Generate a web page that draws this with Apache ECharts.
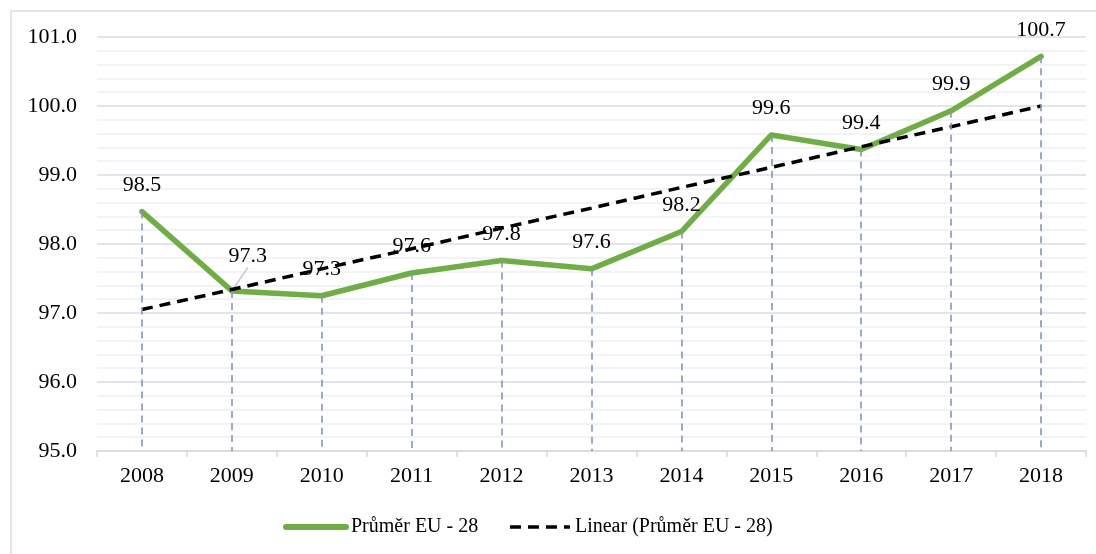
<!DOCTYPE html>
<html>
<head>
<meta charset="utf-8">
<script src="https://cdn.jsdelivr.net/npm/echarts@6/dist/echarts.min.js"></script>
<style>
  html, body { margin: 0; padding: 0; background: #fff; }
  #chart { width: 1096px; height: 554px; }
</style>
</head>
<body>
<div id="chart"></div>
<script>
const years = ['2008', '2009', '2010', '2011', '2012', '2013', '2014', '2015', '2016', '2017', '2018'];
const average = [98.47, 97.32, 97.25, 97.58, 97.76, 97.64, 98.18, 99.58, 99.37, 99.93, 100.72];
const trend = [97.05, 97.34, 97.64, 97.93, 98.23, 98.52, 98.82, 99.11, 99.41, 99.70, 100.00];
const seriesName = 'Průměr EU - 28';
const trendName = 'Linear (Průměr EU - 28)';

const font = '"Liberation Serif", "Times New Roman", serif';

const chart = echarts.init(document.getElementById('chart'));

const dropLines = average.map((v, i) => [
  { coord: [i, v] },
  { coord: [i, 95] }
]);

// only the 2009 label is pulled aside with a leader line
const averageData = average.map((v, i) =>
  i === 1 ? { value: v, labelLine: { show: true } } : v
);

const option = {
  animation: false,
  textStyle: { fontFamily: font },
  graphic: [{
    type: 'rect',
    shape: { x: 11, y: 11, width: 1200, height: 700 },
    style: { fill: 'none', stroke: '#d9dde6', lineWidth: 1.5 },
    silent: true
  }],
  grid: {
    left: 97,
    right: 10,
    top: 37,
    bottom: 103
  },
  legend: {
    data: [
      { name: seriesName, lineStyle: { color: '#70ad47', width: 6, cap: 'round' } },
      { name: trendName, lineStyle: { color: '#000', width: 3.5, type: [11, 7] } }
    ],
    left: 278,
    top: 512,
    itemWidth: 60,
    itemHeight: 10,
    itemGap: 30,
    itemStyle: { opacity: 0 },
    textStyle: { fontFamily: font, fontSize: 20, color: '#000' }
  },
  xAxis: {
    type: 'category',
    data: years,
    boundaryGap: true,
    axisLine: { lineStyle: { color: '#d9d9d9', width: 1.5 } },
    axisTick: { show: true, length: 6, lineStyle: { color: '#d9d9d9', width: 1.5 } },
    axisLabel: { fontFamily: font, fontSize: 22, color: '#000', margin: 14 },
    splitLine: { show: false }
  },
  yAxis: {
    type: 'value',
    min: 95,
    max: 101,
    interval: 1,
    axisLine: { show: false },
    axisTick: { show: false },
    axisLabel: {
      fontFamily: font,
      fontSize: 22,
      color: '#000',
      margin: 20,
      formatter: (v) => v.toFixed(1)
    },
    splitLine: { lineStyle: { color: '#d9dde6', width: 1.5 } },
    minorTick: { show: false, splitNumber: 5 },
    minorSplitLine: { show: true, lineStyle: { color: '#eef0f4', width: 1.5 } }
  },
  series: [
    {
      name: 'drops',
      type: 'line',
      data: average,
      symbol: 'none',
      lineStyle: { opacity: 0 },
      silent: true,
      z: 1,
      markLine: {
        silent: true,
        symbol: 'none',
        label: { show: false },
        lineStyle: { color: '#8497b0', type: [7, 5], width: 1.6 },
        data: dropLines
      }
    },
    {
      name: trendName,
      type: 'line',
      data: trend,
      symbol: 'none',
      z: 3,
      lineStyle: { color: '#000', width: 3.5, type: [11, 7] },
      itemStyle: { color: '#000' }
    },
    {
      name: seriesName,
      type: 'line',
      data: averageData,
      symbol: 'circle',
      symbolSize: 1,
      showSymbol: true,
      z: 2,
      lineStyle: { color: '#70ad47', width: 5.5, cap: 'round', join: 'round' },
      itemStyle: { color: '#70ad47' },
      label: {
        show: true,
        position: 'top',
        distance: 15,
        fontFamily: font,
        fontSize: 22,
        color: '#000',
        formatter: (p) => Number(p.value).toFixed(1)
      },
      labelLine: {
        show: false,
        lineStyle: { color: '#bfc7d5', width: 1.5 }
      },
      labelLayout: (params) => {
        if (params.dataIndex === 1) return { dx: 16, dy: -8 };
        return {};
      }
    }
  ]
};

chart.setOption(option);
window.addEventListener('resize', () => chart.resize());
</script>
</body>
</html>
